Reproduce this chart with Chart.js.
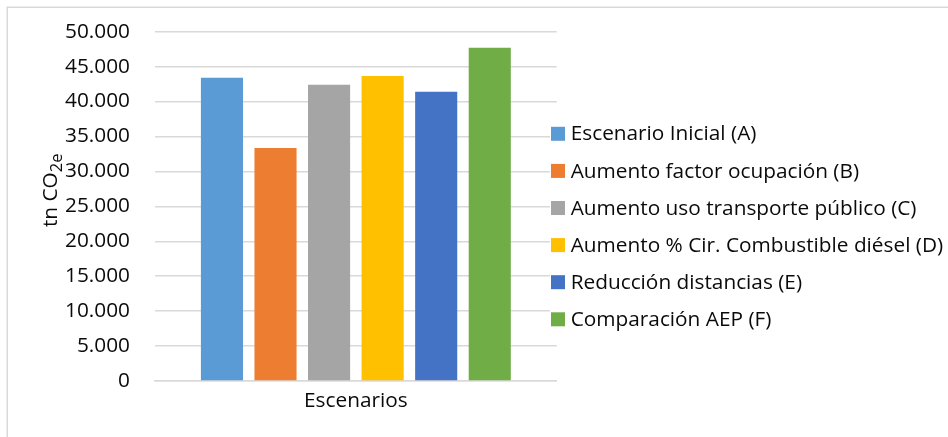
<!DOCTYPE html>
<html lang="es">
<head>
<meta charset="utf-8">
<title>Emisiones por escenario</title>
<script src="https://cdn.jsdelivr.net/npm/chart.js@4.4.1/dist/chart.umd.min.js"></script>
<style>
  html, body { margin: 0; padding: 0; background: #ffffff; }
  #wrap { width: 948px; height: 437px; position: relative; }
</style>
</head>
<body>
<div id="wrap"><canvas id="chart" width="948" height="437"></canvas></div>
<script>
// Datos de emisiones (tn CO2e) por escenario
const categories = ['Escenarios'];
const scenarioNames = [
  'Escenario Inicial (A)',
  'Aumento factor ocupación (B)',
  'Aumento uso transporte público (C)',
  'Aumento % Cir. Combustible diésel (D)',
  'Reducción distancias (E)',
  'Comparación AEP (F)'
];
const scenarioValues = [43400, 33350, 42400, 43650, 41400, 47700];
const yAxisMin = 0;
const yAxisMax = 50000;
const yAxisStep = 5000;

// Paleta de colores de las barras
const scenarioColors = ['#5B9BD5', '#ED7D31', '#A5A5A5', '#FFC000', '#4472C4', '#70AD47'];

const FONT = '"Open Sans", "DejaVu Sans", sans-serif';
const FONT_SIZE = 20.8;
const TEXT_COLOR = '#0a0a0a';
const GRID_COLOR = '#d9d9d9';

// Separador de miles con punto (50.000)
function formatThousands(v) {
  return String(Math.round(v)).replace(/\B(?=(\d{3})+(?!\d))/g, '.');
}

const datasets = scenarioNames.map((name, i) => ({
  label: name,
  data: [scenarioValues[i]],
  backgroundColor: scenarioColors[i],
  borderWidth: 0,
  categoryPercentage: 0.8,
  barPercentage: 0.786
}));

// Marco exterior, título del eje Y con subíndice y leyenda superpuesta
const decorations = {
  id: 'decorations',
  beforeDraw(chart) {
    const ctx = chart.ctx;
    ctx.save();
    ctx.fillStyle = '#ffffff';
    ctx.fillRect(0, 0, chart.width, chart.height);
    ctx.strokeStyle = GRID_COLOR;
    ctx.lineWidth = 1.5;
    ctx.strokeRect(7.25, 7.25, chart.width + 20, chart.height + 20);
    ctx.restore();
  },
  afterDraw(chart) {
    const ctx = chart.ctx;
    const area = chart.chartArea;

    // Título del eje Y: "tn CO" + subíndice "2e"
    ctx.save();
    const mainFont = FONT_SIZE + 'px ' + FONT;
    const subFont = '16.5px ' + FONT;
    ctx.font = mainFont;
    const wMain = ctx.measureText('tn CO').width;
    ctx.font = subFont;
    const wSub = ctx.measureText('2e').width;
    const total = wMain + wSub;
    const cx = area.left - 98.5;
    const cy = (area.top + area.bottom) / 2 - 16;
    ctx.translate(cx, cy);
    ctx.rotate(-Math.PI / 2);
    ctx.fillStyle = TEXT_COLOR;
    ctx.textBaseline = 'alphabetic';
    ctx.textAlign = 'left';
    ctx.font = mainFont;
    ctx.fillText('tn CO', -total / 2, 0);
    ctx.font = subFont;
    ctx.fillText('2e', -total / 2 + wMain, 5);
    ctx.restore();

    // Leyenda
    ctx.save();
    const rowGap = 37.1;
    const firstRow = area.top + 102.1;
    const boxX = area.right - 5.7;
    const box = 14;
    const n = chart.data.datasets.length;
    ctx.fillStyle = '#ffffff';
    ctx.fillRect(boxX - 1, firstRow - rowGap / 2, chart.width - boxX + 1, rowGap * n);
    ctx.font = FONT_SIZE + 'px ' + FONT;
    ctx.textBaseline = 'alphabetic';
    ctx.textAlign = 'left';
    chart.data.datasets.forEach((ds, i) => {
      const yc = firstRow + i * rowGap;
      ctx.fillStyle = ds.backgroundColor;
      ctx.fillRect(boxX, yc - box / 2, box, box);
      ctx.fillStyle = TEXT_COLOR;
      ctx.fillText(ds.label, boxX + box + 5.7, yc + 6.6);
    });
    ctx.restore();
  }
};

new Chart(document.getElementById('chart'), {
  type: 'bar',
  data: { labels: categories, datasets },
  options: {
    responsive: false,
    animation: false,
    devicePixelRatio: 1,
    layout: { padding: { left: 0, top: 31.7, right: 391.3, bottom: 0 } },
    plugins: {
      legend: { display: false },
      tooltip: { enabled: false },
      title: { display: false }
    },
    scales: {
      x: {
        grid: { display: false, drawTicks: false },
        border: { display: true, color: GRID_COLOR, width: 1.5 },
        ticks: {
          color: TEXT_COLOR,
          font: { family: FONT, size: FONT_SIZE },
          padding: 7.5
        },
        afterFit(scale) { scale.height = 56; }
      },
      y: {
        min: yAxisMin,
        max: yAxisMax,
        grid: { color: GRID_COLOR, lineWidth: 1.5, drawTicks: false },
        border: { display: false },
        ticks: {
          stepSize: yAxisStep,
          color: TEXT_COLOR,
          font: { family: FONT, size: FONT_SIZE },
          padding: 25,
          callback: (v) => formatThousands(v)
        },
        afterFit(scale) {
          scale.width = 155;
          // the horizontal label gap should not push the plot area down
          scale.paddingTop = 12;
          scale.paddingBottom = 12;
        }
      }
    }
  },
  plugins: [decorations]
});
</script>
</body>
</html>
